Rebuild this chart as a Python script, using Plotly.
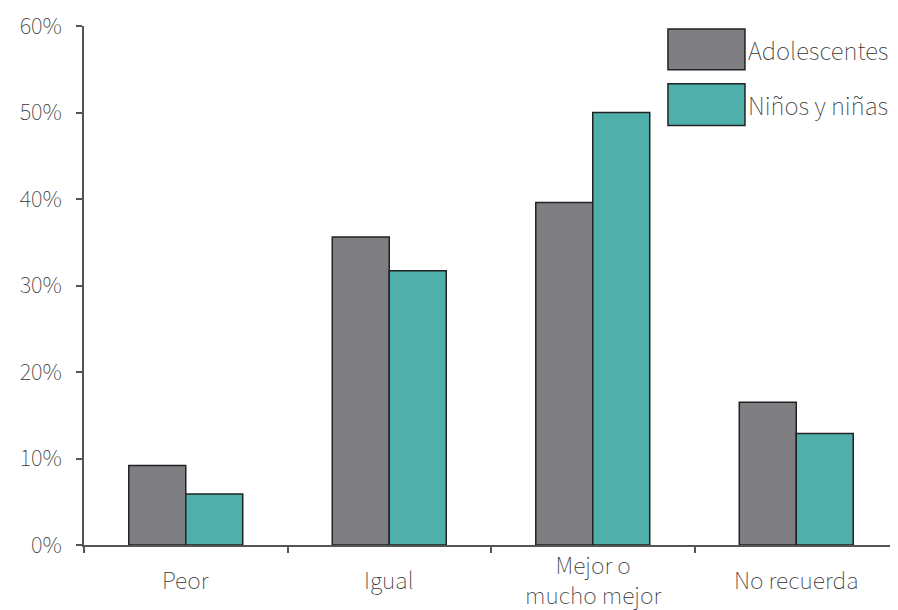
import plotly.graph_objects as go

categories = ["Peor", "Igual", "Mejor o<br>mucho mejor", "No recuerda"]
series_names = ["Adolescentes", "Niños y niñas"]
adolescentes = [9.2, 35.6, 39.6, 16.5]
ninos = [5.9, 31.7, 50.0, 12.9]
y_ticks = [0, 10, 20, 30, 40, 50, 60]
y_tick_labels = ["0%", "10%", "20%", "30%", "40%", "50%", "60%"]

colors = ["#7f7f83", "#4fafaa"]
FONT = "Noto Sans CJK JP"
TXT = "#333333"
W = 100

fig = go.Figure()
for name, vals, col in zip(series_names, [adolescentes, ninos], colors):
    fig.add_trace(go.Bar(
        x=categories, y=vals, name=name,
        marker=dict(color=col, line=dict(color="#222222", width=1.5)),
        showlegend=False,
    ))

# category labels centred below the axis
for c in categories:
    fig.add_annotation(xref="x", yref="paper", x=c, y=0, yshift=-34,
                       text=c, showarrow=False, xanchor="center", yanchor="middle",
                       font=dict(family=FONT, size=23, color=TXT, weight=W))

# custom legend (large swatches)
legend_boxes = [(0.9155, 0.9942), (0.8081, 0.8887)]
for name, col, (y0, y1) in zip(series_names, colors, legend_boxes):
    fig.add_shape(type="rect", xref="paper", yref="paper",
                  x0=0.7174, x1=0.812, y0=y0, y1=y1,
                  fillcolor=col, line=dict(color="#222222", width=1.5))
    fig.add_annotation(xref="paper", yref="paper", x=0.813, y=(y0 + y1) / 2,
                       text=name, showarrow=False, xanchor="left", yanchor="middle",
                       font=dict(family=FONT, size=24, color=TXT, weight=W))

fig.update_layout(
    width=890, height=602,
    margin=dict(l=76, r=0, t=16, b=65),
    paper_bgcolor="white", plot_bgcolor="white",
    barmode="group", bargap=0.44, bargroupgap=0,
    font=dict(family=FONT, size=22, color=TXT, weight=W),
    xaxis=dict(
        showline=True, linecolor="#555555", linewidth=2,
        ticks="outside", tickson="boundaries", ticklen=6, tickcolor="#555555", tickwidth=1.5,
        showgrid=False, showticklabels=False,
    ),
    yaxis=dict(
        range=[0, 60], tickvals=y_ticks, ticktext=[t + "\u00a0\u00a0" for t in y_tick_labels],
        showline=True, linecolor="#555555", linewidth=2,
        ticks="outside", ticklen=6, tickcolor="#555555", tickwidth=1.5,
        showgrid=False, zeroline=False, ticklabeloverflow="allow",
        tickfont=dict(family=FONT, size=22, color=TXT, weight=W),
    ),
)

fig.write_html("out.html")
